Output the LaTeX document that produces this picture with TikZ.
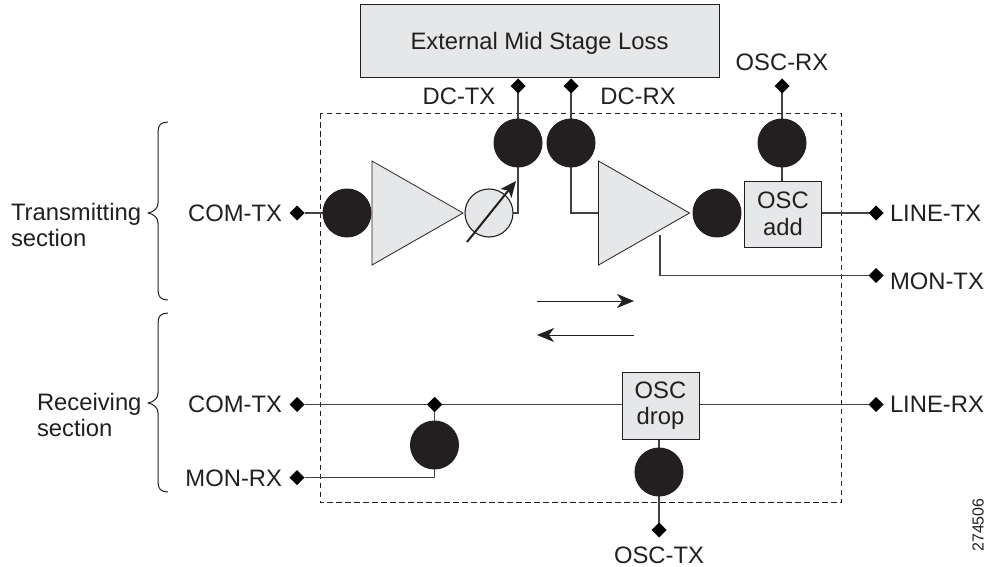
\documentclass[tikz,border=0pt]{standalone}
\usepackage{fontspec}
\setmainfont{Liberation Sans}
\usetikzlibrary{shapes.geometric,arrows.meta}
\definecolor{ink}{HTML}{231F20}
\definecolor{fillgray}{HTML}{E6E7E8}
\tikzset{
  x=1pt,y=-1pt,
  every node/.style={font=\fontsize{23.8}{26.6}\selectfont,text=ink,inner sep=0pt,outer sep=0pt},
  wire/.style={draw=ink!85,line width=1.1pt},
  blackdot/.style={circle,fill=ink,minimum size=49pt},
  port/.style={diamond,fill=black,minimum size=15pt},
  graybox/.style={rectangle,draw=ink,line width=1pt,fill=fillgray,align=center},
  amp/.style={isosceles triangle,isosceles triangle stretches,draw=ink,line width=0.8pt,fill=fillgray,minimum width=104pt,minimum height=91pt,anchor=lower side,shape border rotate=0},
  voa/.style={circle,draw=ink,line width=1.1pt,fill=fillgray,minimum size=48pt},
  brace/.style={draw=ink,line width=1pt,line join=round},
  rlabel/.style={anchor=east,align=right},
  llabel/.style={anchor=west,align=left},
  flow/.style={draw=ink,line width=1pt,-{Stealth[length=17pt,width=14pt,inset=5pt]}},
}
\begin{document}
\begin{tikzpicture}
\useasboundingbox (0,0) rectangle (990,567);
% frame
\draw[draw=ink,line width=0.9pt,dash pattern=on 5.5pt off 3.5pt] (320,113.5) rectangle (841.5,502.5);
% named shapes
\node[graybox,minimum width=359pt,minimum height=73pt] (ext) at (539.5,41.5) {};
\node (extlabel) at (539.5,43) {External Mid Stage Loss};
\node[port] (dctxp) at (518,86) {};
\node[port] (dcrxp) at (571,86) {};
\node[port] (oscrxp) at (782,86) {};
\node[port] (comtxp) at (297,213) {};
\node[port] (linetxp) at (876,213) {};
\node[port] (montxp) at (876,275.5) {};
\node[port] (comrxp) at (297,404.5) {};
\node[port] (linerxp) at (876,404.5) {};
\node[port] (monrxp) at (297,477.5) {};
\node[port] (junc) at (434.5,404.5) {};
\node[port] (osctxp) at (659,530) {};
\coordinate (bend1) at (518,213);
\coordinate (bend2) at (571,213);
\coordinate (tap) at (660,235);
\coordinate (bend3) at (660,275.5);
\coordinate (bend4) at (434.5,477.5);
% connectors
\draw[wire] (dctxp) -- (518,143);
\draw[wire] (dcrxp) -- (571,143);
\draw[wire] (oscrxp) -- (782,190);
\draw[wire] (comtxp) -- (347,213);
\draw[wire] (518,143) -- (bend1) -- (489,213);
\draw[wire] (571,143) -- (bend2) -- (610,213);
\draw[wire] (tap) -- (bend3) -- (montxp);
\draw[wire] (782,213) -- (linetxp);
\draw[wire] (comrxp) -- (linerxp);
\draw[wire] (junc) -- (bend4) -- (monrxp);
\draw[wire] (659,404) -- (osctxp);
% shapes on top
\node[blackdot] (c1) at (347,213) {};
\node[amp] (a1) at (372,213) {};
\node[voa] (v1) at (489,213) {};
\node[blackdot] (c2) at (518,143) {};
\node[blackdot] (c3) at (571,143) {};
\node[amp] (a2) at (598.5,213) {};
\node[blackdot] (c4) at (717,213) {};
\node[blackdot] (c5) at (782,143) {};
\node[graybox,minimum width=77pt,minimum height=66pt] (oscadd) at (783,214) {OSC\\add};
\node[graybox,minimum width=77pt,minimum height=67pt] (oscdrop) at (660.5,405.5) {OSC\\drop};
\node[blackdot] (c6) at (434.5,445) {};
\node[blackdot] (c7) at (659,472) {};
\node[port] at (434.5,404.5) {};
\draw[ink,line width=2pt,-{Stealth[length=16pt,width=14pt,inset=4pt]}] (467,242) -- (516,181);
% flow arrows
\coordinate (f1) at (537,301); \coordinate (f2) at (634,301);
\coordinate (f3) at (634,335); \coordinate (f4) at (537,335);
\draw[flow] (f1) -- (f2);
\draw[flow] (f3) -- (f4);
% braces
\draw[brace] (168,122) .. controls (161,122) and (158,125) .. (158,132) -- (158,203) .. controls (158,208) and (154,212) .. (148,213) .. controls (154,214) and (158,218) .. (158,223) -- (158,290) .. controls (158,297) and (161,300) .. (168,300);
\draw[brace] (168,313) .. controls (161,313) and (158,316) .. (158,323) -- (158,393) .. controls (158,398) and (154,402) .. (148,403) .. controls (154,404) and (158,408) .. (158,413) -- (158,482) .. controls (158,489) and (161,492) .. (168,492);
% labels
\node[llabel] (tx) at (11,225) {Transmitting\\section};
\node[llabel] (rx) at (37,415) {Receiving\\section};
\node[rlabel] (l1) at (282,213) {COM-TX};
\node[rlabel] (l2) at (282,404) {COM-TX};
\node[rlabel] (l3) at (282,478) {MON-RX};
\node (l4) at (459,96) {DC-TX};
\node (l5) at (638,96) {DC-RX};
\node (l6) at (782,62) {OSC-RX};
\node[llabel] (l7) at (890,213) {LINE-TX};
\node[llabel] (l8) at (890,281) {MON-TX};
\node[llabel] (l9) at (890,404) {LINE-RX};
\node (l10) at (659,555) {OSC-TX};
\node[rotate=90,font=\fontsize{16}{18}\selectfont] (fig) at (978,525) {274506};
\end{tikzpicture}
\end{document}
